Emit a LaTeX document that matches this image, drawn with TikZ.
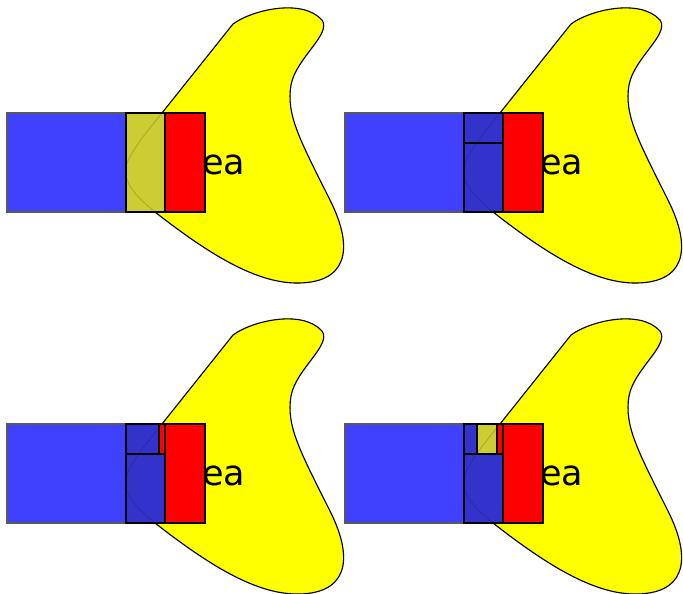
\documentclass[tikz,border=0pt]{standalone}
\usepackage{fontspec}
\newfontfamily\dejavu{DejaVu Sans}
\definecolor{bblue}{RGB}{64,64,255}
\definecolor{dblue}{RGB}{51,51,204}
\definecolor{olive2}{RGB}{204,204,51}
\definecolor{yel}{RGB}{255,255,0}
\definecolor{rd}{RGB}{255,0,0}
\tikzset{
  blob/.style={fill=yel, draw=black, line width=1.1pt},
  bigrect/.style={fill=bblue, draw=black!65, line width=1.1pt},
  cell/.style={draw=black, line width=1.2pt},
  faint/.style={draw=black, opacity=0.15, line width=1pt},
  label/.style={anchor=base west, inner sep=0pt, font=\dejavu\fontsize{35}{35}\selectfont}
}
\newcommand{\blobpath}{(127,163) .. controls (135,145) and (150,128) .. (162,113)
  -- (233,24)
  .. controls (252,10) and (302,-2) .. (322,20)
  .. controls (332,34) and (296,58) .. (291,85)
  .. controls (286,115) and (300,140) .. (330,200)
  .. controls (356,252) and (345,284) .. (295,283)
  .. controls (255,282) and (210,255) .. (155,212)
  .. controls (140,200) and (120,182) .. (127,163) -- cycle}
\begin{document}
\begin{tikzpicture}[x=1pt,y=-1pt]
\useasboundingbox (0,0) rectangle (683,594);
% panel 1
\begin{scope}
  \path[blob] \blobpath;
  \node[label] (t1) at (202,174) {ea};
  \path[bigrect] (7,113) rectangle (165,212);
  \path[cell, fill=olive2] (126,113) rectangle (165,212);
  \path[cell, fill=rd] (165,113) rectangle (205,212);
  \path[faint] \blobpath;
\end{scope}
% panel 2
\begin{scope}[shift={(338,0)}]
  \path[blob] \blobpath;
  \node[label] (t2) at (202,174) {ea};
  \path[bigrect] (7,113) rectangle (165,212);
  \path[cell, fill=dblue] (126,113) rectangle (165,143);
  \path[cell, fill=dblue] (126,143) rectangle (165,212);
  \path[cell, fill=rd] (165,113) rectangle (205,212);
  \path[faint] \blobpath;
\end{scope}
% panel 3
\begin{scope}[shift={(0,311)}]
  \path[blob] \blobpath;
  \node[label] (t3) at (202,174) {ea};
  \path[bigrect] (7,113) rectangle (165,212);
  \path[cell, fill=dblue] (126,113) rectangle (159,143);
  \path[cell, fill=rd] (159,113) rectangle (165,143);
  \path[cell, fill=dblue] (126,143) rectangle (165,212);
  \path[cell, fill=rd] (165,113) rectangle (205,212);
  \path[faint] \blobpath;
\end{scope}
% panel 4
\begin{scope}[shift={(338,311)}]
  \path[blob] \blobpath;
  \node[label] (t4) at (202,174) {ea};
  \path[bigrect] (7,113) rectangle (165,212);
  \path[cell, fill=dblue] (126,113) rectangle (139,143);
  \path[cell, fill=olive2] (139,113) rectangle (159,143);
  \path[cell, fill=rd] (159,113) rectangle (165,143);
  \path[cell, fill=dblue] (126,143) rectangle (165,212);
  \path[cell, fill=rd] (165,113) rectangle (205,212);
  \path[faint] \blobpath;
\end{scope}
\end{tikzpicture}
\end{document}
